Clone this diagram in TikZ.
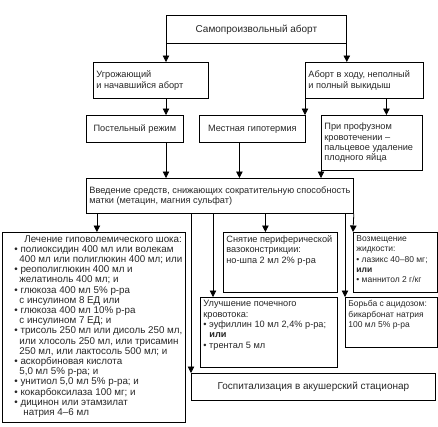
\documentclass[tikz,border=0pt]{standalone}
\usepackage{fontspec}
\setmainfont{Liberation Sans}
\usetikzlibrary{arrows.meta, calc}

\newcommand{\boxfont}{\fontsize{9.2}{10.4}\selectfont}
\newcommand{\narrowfont}{\fontsize{8.5}{10.4}\selectfont}

\begin{document}
\begin{tikzpicture}[x=1pt, y=-1pt,
    box/.style={draw, line width=0.8pt, inner xsep=3pt, inner ysep=3pt, font=\boxfont, text=black!85},
    arr/.style={-{Triangle[width=6.5pt,length=6.5pt]}, line width=0.8pt}]
    \useasboundingbox (0,0) rectangle (438,426);

    % Блоки
    \node[box, anchor=north west, minimum width=180pt, minimum height=28pt, font=\fontsize{10}{12}\selectfont] (samo) at (166,15) {Самопроизвольный аборт};
    \node[box, anchor=north west] (ugr) at (93,62) {\parbox[c][30pt][c]{109pt}{\raggedright Угрожающий\\и начавшийся аборт}};
    \node[box, anchor=north west] (abort) at (305,62) {\parbox[c][30pt][c]{112pt}{\raggedright Аборт в ходу, неполный\\и полный выкидыш}};
    \node[box, anchor=north west, minimum width=97pt, minimum height=27pt] (post) at (86,115) {Постельный режим};
    \node[box, anchor=north west, minimum width=106pt, minimum height=27pt] (mest) at (199,115) {Местная гипотермия};
    \node[box, anchor=north west] (prof) at (321,115) {\parbox[c][49pt][c]{95pt}{\raggedright При профузном\\кровотечении~--\\пальцевое удаление\\плодного яйца}};
    \node[box, anchor=north west] (vved) at (86,178) {\parbox[c][29pt][c]{261pt}{\raggedright Введение средств, снижающих сократительную способность\\матки (метацин, магния сульфат)}};

    \node[box, anchor=north west] (shock) at (2,232) {\parbox[c][184pt][t]{177pt}{\raggedright\fontsize{9.8}{10.2}\selectfont
        \hspace*{19pt}Лечение гиповолемического шока:\\
        \hspace*{9pt}\textbullet\ полиоксидин 400 мл или волекам\\
        \hspace*{14pt}400 мл или полиглюкин 400 мл; или\\
        \hspace*{9pt}\textbullet\ реополиглюкин 400 мл и\\
        \hspace*{14pt}желатиноль 400 мл; и\\
        \hspace*{9pt}\textbullet\ глюкоза 400 мл 5\% р-ра\\
        \hspace*{14pt}с инсулином 8 ЕД или\\
        \hspace*{9pt}\textbullet\ глюкоза 400 мл 10\% р-ра\\
        \hspace*{14pt}с инсулином 7 ЕД; и\\
        \hspace*{9pt}\textbullet\ трисоль 250 мл или дисоль 250 мл,\\
        \hspace*{14pt}или хлосоль 250 мл, или трисамин\\
        \hspace*{14pt}250 мл, или лактосоль 500 мл; и\\
        \hspace*{9pt}\textbullet\ аскорбиновая кислота\\
        \hspace*{14pt}5,0 мл 5\% р-ра; и\\
        \hspace*{9pt}\textbullet\ унитиол 5,0 мл 5\% р-ра; и\\
        \hspace*{9pt}\textbullet\ кокарбоксилаза 100 мг; и\\
        \hspace*{9pt}\textbullet\ дицинон или этамзилат\\
        \hspace*{18pt}натрия 4--6 мл}};

    \node[box, anchor=north west] (snyat) at (223,232) {\parbox[c][54pt][t]{108pt}{\raggedright Снятие периферической\\вазоконстрикции:\\но-шпа 2 мл 2\% р-ра}};
    \node[box, anchor=north west] (vozm) at (353,232) {\parbox[c][54pt][t]{78pt}{\raggedright\narrowfont Возмещение\\жидкости:\\\textbullet\ лазикс 40--80 мг;\\\textbf{или}\\\textbullet\ маннитол 2 г/кг}};
    \node[box, anchor=north west] (uluch) at (200,297) {\parbox[c][64pt][t]{131pt}{\raggedright Улучшение почечного\\кровотока:\\\textbullet\ эуфиллин 10 мл 2,4\% р-ра;\\\hspace*{6pt}\textbf{или}\\\textbullet\ трентал 5 мл}};
    \node[box, anchor=north west] (borba) at (345,297) {\parbox[c][44pt][t]{86pt}{\raggedright\narrowfont Борьба с ацидозом:\\бикарбонат натрия\\100 мл 5\% р-ра}};
    \node[box, anchor=north west, minimum width=244pt, minimum height=27pt, font=\fontsize{10}{12}\selectfont] (gosp) at (191,373) {Госпитализация в акушерский стационар};

    % Стрелки
    \draw[arr] (samo.south west) -- (samo.south west |- ugr.north);
    \draw[arr] (samo.south east) -- (samo.south east |- abort.north);
    \draw[arr] (samo.south west |- ugr.south) -- (samo.south west |- post.north);
    \draw[arr] (abort.south west) -- (abort.south west |- mest.north);
    \draw[arr] ([xshift=22pt]abort.south) -- ([xshift=22pt]abort.south |- prof.north);
    \draw[arr] (samo.south west |- post.south) -- (samo.south west |- vved.north);
    \draw[arr] ([xshift=-13pt]mest.south) -- ([xshift=-13pt]mest.south |- vved.north);
    \draw[arr] (prof.south west) -- (prof.south west |- vved.north);

    \draw[arr] ([xshift=3pt]shock.north |- vved.south) -- ([xshift=3pt]shock.north);
    \draw[arr] (gosp.north west |- vved.south) -- (gosp.north west);
    \draw[arr] ([xshift=13pt]uluch.north west |- vved.south) -- ([xshift=13pt]uluch.north west);
    \draw[arr] ([xshift=-15pt]snyat.north |- vved.south) -- ([xshift=-15pt]snyat.north);
    \draw[arr] (borba.north west |- vved.south) -- (borba.north west);
    \draw[arr] (vved.south east) -- (vozm.north west);
\end{tikzpicture}
\end{document}
